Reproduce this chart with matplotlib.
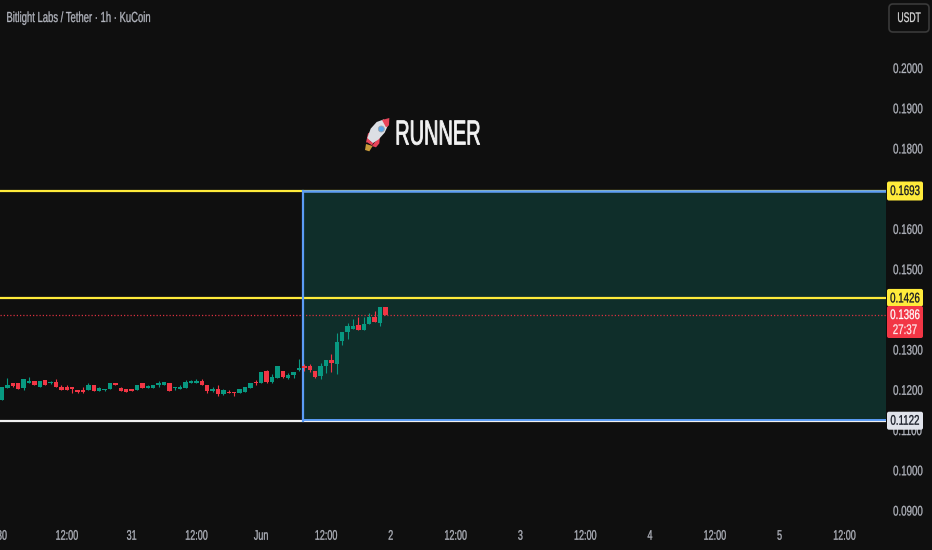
import matplotlib
matplotlib.use("Agg")
import matplotlib.pyplot as plt
from matplotlib.patches import FancyBboxPatch, Polygon, Circle, Rectangle
from matplotlib.patheffects import AbstractPathEffect
from matplotlib.transforms import Affine2D

plt.rcParams["font.family"] = ["Liberation Sans", "DejaVu Sans"]

# hourly candles, 30 May 00:00 onwards
opens = [.1173, .1204, .1217, .1215, .1204, .1217, .1220, .1207, .1222, .1215, .1218, .1207,
         .1207, .1205, .1198, .1198, .1198, .1210, .1197, .1199, .1202, .1215, .1204, .1202,
         .1202, .1199, .1215, .1204, .1204, .1211, .1210, .1215, .1204, .1202, .1204, .1216,
         .1217, .1221, .1210, .1197, .1202, .1188, .1194, .1193, .1192, .1194, .1204, .1218,
         .1215, .1246, .1218, .1229, .1246, .1228, .1236, .1248, .1257, .1257, .1246, .1232,
         .1257, .1273, .1263, .1320, .1342, .1349, .1360, .1347, .1362, .1379, .1366, .1405]
highs = [.1205, .1229, .1217, .1215, .1225, .1231, .1220, .1220, .1222, .1221, .1226, .1212,
         .1212, .1205, .1198, .1207, .1215, .1210, .1207, .1202, .1215, .1217, .1207, .1202,
         .1202, .1210, .1215, .1212, .1212, .1221, .1218, .1215, .1207, .1212, .1222, .1223,
         .1226, .1226, .1210, .1207, .1210, .1202, .1199, .1194, .1202, .1207, .1215, .1222,
         .1244, .1249, .1239, .1258, .1246, .1240, .1244, .1275, .1264, .1263, .1246, .1265,
         .1273, .1287, .1341, .1342, .1365, .1376, .1379, .1379, .1391, .1395, .1405, .1405]
lows = [.1173, .1204, .1207, .1201, .1198, .1215, .1210, .1207, .1210, .1213, .1207, .1199,
        .1199, .1191, .1191, .1191, .1198, .1197, .1197, .1197, .1202, .1211, .1197, .1194,
        .1197, .1199, .1204, .1204, .1204, .1205, .1210, .1197, .1198, .1202, .1204, .1216,
        .1215, .1212, .1191, .1194, .1183, .1187, .1192, .1184, .1192, .1194, .1204, .1210,
        .1215, .1217, .1217, .1229, .1229, .1226, .1229, .1246, .1246, .1242, .1227, .1226,
        .1241, .1243, .1238, .1310, .1326, .1349, .1347, .1347, .1362, .1368, .1358, .1386]
closes = [.1205, .1212, .1209, .1202, .1225, .1220, .1210, .1220, .1210, .1218, .1207, .1199,
          .1199, .1201, .1194, .1194, .1212, .1197, .1204, .1202, .1215, .1211, .1197, .1194,
          .1197, .1210, .1204, .1208, .1212, .1216, .1218, .1197, .1207, .1205, .1218, .1221,
          .1221, .1212, .1197, .1200, .1188, .1199, .1192, .1190, .1202, .1207, .1215, .1215,
          .1244, .1218, .1231, .1258, .1231, .1236, .1244, .1252, .1254, .1249, .1231, .1257,
          .1273, .1265, .1318, .1342, .1357, .1357, .1347, .1362, .1381, .1368, .1405, .1386]

# 0.1700 and 0.1400 sit behind the level tags in the reference
price_ticks = [.2000, .1900, .1800, .1600, .1500, .1300, .1200, .1100, .1000, .0900]
time_ticks = [0, 12, 24, 36, 48, 60, 72, 84, 96, 108, 120, 132, 144, 156]
time_labels = ["30", "12:00", "31", "12:00", "Jun", "12:00", "2", "12:00", "3", "12:00", "4", "12:00", "5", "12:00"]

level_top = .1693
level_mid = .1426
level_low = .1122
last_price = .1386
box_start = 55.75

BG = "#0f0f0f"
GREEN = "#089981"
RED = "#f23645"
YELLOW = "#ffeb3b"
BLUE = "#5b9cf6"
GREY = "#b2b5be"


# no condensed font installed, so squeeze the glyphs sideways
class Squeeze(AbstractPathEffect):
    def __init__(self, sx, weight=0.0, left=False):
        super().__init__()
        self.sx = sx
        self.weight = weight
        self.left = left

    def draw_path(self, renderer, gc, tpath, affine, rgbFace=None):
        ext = tpath.get_extents()
        cx = ext.x0 if self.left else (ext.x0 + ext.x1) / 2
        squeezed = Affine2D().translate(-cx, 0).scale(self.sx, 1).translate(cx, 0) + affine
        gc0 = renderer.new_gc()
        gc0.copy_properties(gc)
        gc0.set_linewidth(self.weight)
        renderer.draw_path(gc0, tpath, squeezed, rgbFace)
        gc0.restore()


fig = plt.figure(figsize=(9.32, 5.5), dpi=100, facecolor=BG)
ax = fig.add_axes([0, 30 / 550, 886 / 932, 520 / 550], facecolor=BG)
ax.set_xlim(-2 / 5.4, 884 / 5.4)
ax.set_ylim(0.2 - 452.5 / 4023, 0.2 + 67.5 / 4023)
for s in ax.spines.values():
    s.set_visible(False)

ax.yaxis.tick_right()
ax.set_yticks(price_ticks, [f"{p:.4f}" for p in price_ticks])
ax.set_xticks(time_ticks, time_labels)
ax.tick_params(axis="y", length=0, pad=0.5, labelsize=10, labelcolor=GREY)
ax.tick_params(axis="x", length=0, pad=6.3, labelsize=10, labelcolor=GREY)
for lbl in ax.get_yticklabels():
    lbl.set_path_effects([Squeeze(0.7, 0.2)])
for lbl in ax.get_xticklabels():
    lbl.set_path_effects([Squeeze(0.65, 0.2)])

# zone and levels
ax.add_patch(Rectangle((box_start, level_low), 200, level_top - level_low, fc="#0f2e2a", ec="none", zorder=1))
ax.axhline(level_top, color=YELLOW, lw=1.6, zorder=2)
ax.axhline(level_mid, color=YELLOW, lw=1.6, zorder=2)
ax.axhline(level_low, color="#f0f0f0", lw=1.6, zorder=2)
ax.plot([box_start, 200], [level_top, level_top], color=BLUE, lw=1.8, zorder=3)
ax.plot([box_start, 200], [level_low + .00018, level_low + .00018], color=BLUE, lw=1.4, zorder=3)
ax.plot([box_start, box_start], [level_low, level_top], color=BLUE, lw=1.6, zorder=3)
ax.axhline(last_price, color="#d8303f", lw=0.9, ls=(0, (1, 1.6)), zorder=2)

# candles
for i in range(len(opens)):
    c = GREEN if closes[i] >= opens[i] else RED
    ax.plot([i, i], [lows[i], highs[i]], color=c, lw=0.8, solid_capstyle="butt", zorder=4)
    ax.bar(i, abs(closes[i] - opens[i]), bottom=min(opens[i], closes[i]), width=0.85, color=c, lw=0, zorder=5)

# overlay in pixels for labels
ov = fig.add_axes([0, 0, 1, 1], facecolor="none")
ov.set_xlim(0, 932)
ov.set_ylim(550, 0)
ov.axis("off")


def py(p):
    return 67.5 + (0.2 - p) * 4023


def tag(y0, y1, color):
    ov.add_patch(FancyBboxPatch((887, y0), 36, y1 - y0, boxstyle="round,pad=0,rounding_size=2",
                                fc=color, ec="none", zorder=6))


def tag_text(y, s, color, alpha=1.0):
    t = ov.text(905, y, s, color=color, alpha=alpha, fontsize=10, ha="center", va="center", zorder=7)
    t.set_path_effects([Squeeze(0.7, 0.2)])


tag(py(level_top) - 9.5, py(level_top) + 9.5, YELLOW)
tag_text(py(level_top), f"{level_top:.4f}", "#131722")
tag(py(level_mid) - 9.5, py(level_mid) + 8, YELLOW)
tag_text(py(level_mid), f"{level_mid:.4f}", "#131722")
tag(306, 338, RED)
tag_text(315, f"{last_price:.4f}", "white")
tag_text(330, "27:37", "white", 0.85)
tag(py(level_low) - 9, py(level_low) + 9, "#e0e3eb")
tag_text(py(level_low), f"{level_low:.4f}", "#131722")

ov.add_patch(FancyBboxPatch((889, 4), 40, 28, boxstyle="round,pad=0,rounding_size=4",
                            fc=BG, ec="#3a3a3a", lw=1.2))
t = ov.text(909, 18, "USDT", color="#d8d8d8", fontsize=10, ha="center", va="center")
t.set_path_effects([Squeeze(0.62, 0.2)])

t = ov.text(6, 18, "Bitlight Labs / Tether · 1h · KuCoin", color=GREY, fontsize=10.5, ha="left", va="center")
t.set_path_effects([Squeeze(0.65, 0.2, left=True)])
t = ov.text(394, 135, "RUNNER", color="#f2f2f2", fontsize=25, ha="left", va="center")
t.set_path_effects([Squeeze(0.575, 0.6, left=True)])


# rocket emoji, no font has it
def rocket(points, color):
    ov.add_patch(Polygon([(350 + a / 3, 110 + b / 3) for a, b in points], closed=True, fc=color, ec="none"))


rocket([(48, 102), (68, 108), (58, 124), (45, 120)], "#c79a3a")
rocket([(48, 98), (54, 70), (72, 62), (66, 90)], "#e8455a")
rocket([(66, 108), (90, 76), (88, 100), (78, 112)], "#e8455a")
rocket([(52, 84), (62, 56), (80, 36), (102, 28), (114, 46), (104, 68), (86, 88), (68, 100)], "#dcdfe4")
rocket([(52, 86), (70, 100), (66, 106), (50, 96)], "#e8455a")
rocket([(96, 30), (118, 24), (117, 46), (108, 52)], "#e8455a")
ov.add_patch(Circle((350 + 94 / 3, 110 + 57 / 3), 3, fc="#5aa7e8", ec="#9aa3ad", lw=0.6))

fig.savefig("out.png", dpi=100, facecolor=BG)
